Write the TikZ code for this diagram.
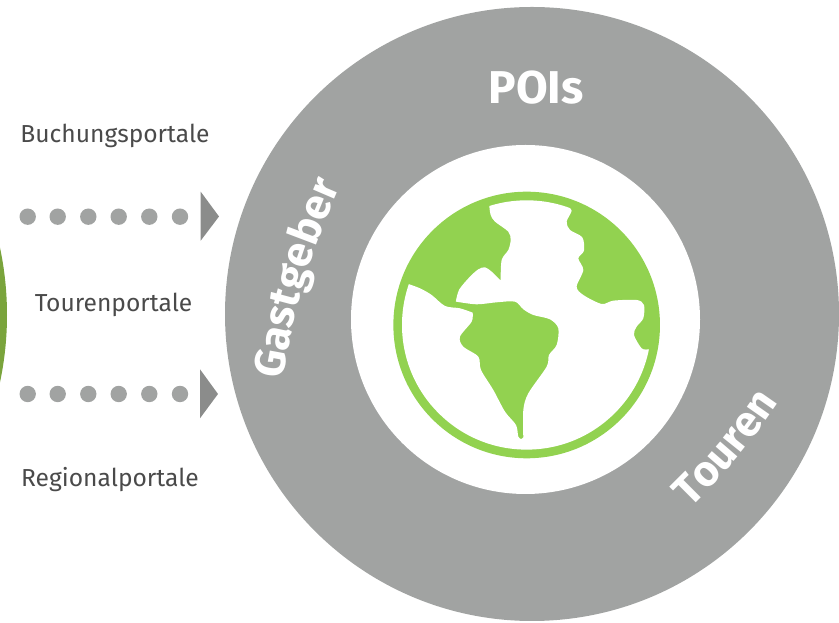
\documentclass[tikz,border=0pt]{standalone}
\usepackage{fontspec}
\setmainfont{Fira Sans}
\usetikzlibrary{decorations.text}
\definecolor{ringGray}{HTML}{A1A3A2}
\definecolor{tipGray}{HTML}{8B8C8B}
\definecolor{labelGray}{HTML}{4A4A4A}
\definecolor{globeGreen}{HTML}{92D250}
\definecolor{darkGreen}{HTML}{7AA43C}
\newcommand{\ringfont}{\fontsize{43}{43}\selectfont\bfseries\color{white}}

\begin{document}
\begin{tikzpicture}[x=1pt, y=1pt]
    \tikzstyle{portal} = [text=labelGray, font=\fontsize{24.6}{25}\selectfont, inner sep=0pt]
    \tikzstyle{dotnode} = [circle, fill=ringGray, minimum size=16.4pt, inner sep=0pt]

    \useasboundingbox (0,0) rectangle (839,623);
    \clip (0,0) rectangle (839,623);

    % Left edge
    \fill[darkGreen] (-317,308) circle (324);

    % Rings
    \fill[ringGray] (532,309) circle (307);
    \fill[white] (525.5,303.5) circle (174.5);
    \node[font=\fontsize{46}{46}\selectfont\bfseries, text=white] (pois) at (536,535) {POIs};
    \coordinate (gast1) at (281,237);
    \coordinate (gast2) at (343,443);
    \coordinate (tour1) at (685,110);
    \coordinate (tour2) at (783,227);
    \path[decorate, decoration={text along path, text align=center, text={|\ringfont|Gastgeber}}] (gast1) to[bend left=7] (gast2);
    \path[decorate, decoration={text along path, text align=center, text={|\ringfont|Touren}}] (tour1) to[bend right=6] (tour2);

    % Globe
    \fill[globeGreen] (526.67,298) circle (133.3);
    \begin{scope}[shift={(380,443)}, x=0.3333pt, y=-0.3333pt]
        \clip (440,435) circle (374);
        \fill[white] (328,0) -- plot[smooth, tension=0.5] coordinates {(328,78) (332,105) (345,125) (385,155) (392,180) (385,210) (365,240) (362,302)}
            -- plot[smooth, tension=0.5] coordinates {(362,302) (335,275) (315,262) (295,268) (270,290) (238,328) (228,362)}
            -- plot[smooth, tension=0.5] coordinates {(228,365) (290,373) (350,367) (405,365) (430,388) (460,405) (510,418) (535,445) (530,495) (507,525) (500,560) (445,640) (430,690) (430,772)}
            -- plot[smooth, tension=0.5] coordinates {(430,772) (424,777) (415,770) (408,735) (375,695) (340,630) (303,570) (295,530) (250,500) (240,470) (275,425) (278,398)}
            -- plot[smooth, tension=0.5] coordinates {(278,398) (240,385) (195,378) (155,345) (120,325) (85,312)}
            -- (30,312) -- (0,900) -- (900,900) -- (900,508) -- (805,508)
            -- plot[smooth, tension=0.5] coordinates {(805,508) (785,505) (762,465) (770,440) (790,415) (792,375) (770,360) (700,362) (665,372) (610,345) (590,320) (610,270) (595,235) (612,212) (607,172) (570,150) (560,125) (575,92) (560,78)}
            -- (560,0) -- cycle;
    \end{scope}

    % Portals
    \node[portal] (buchung) at (115,487) {Buchungsportale};
    \node[portal] (touren) at (113.5,318) {Tourenportale};
    \node[portal] (regional) at (110,143) {Regionalportale};

    % Dotted arrows
    \foreach \i/\x in {1/27.7, 2/57.7, 3/88.3, 4/118.7, 5/149.3, 6/180} {
        \node[dotnode] (upper\i) at (\x,406.3) {};
        \node[dotnode] (lower\i) at (\x,229) {};
    }
    \fill[tipGray] (200.7,431.3) -- (219,406.5) -- (200.7,382.3) -- cycle;
    \fill[tipGray] (200,253.7) -- (218,229) -- (200,204.7) -- cycle;
\end{tikzpicture}
\end{document}
